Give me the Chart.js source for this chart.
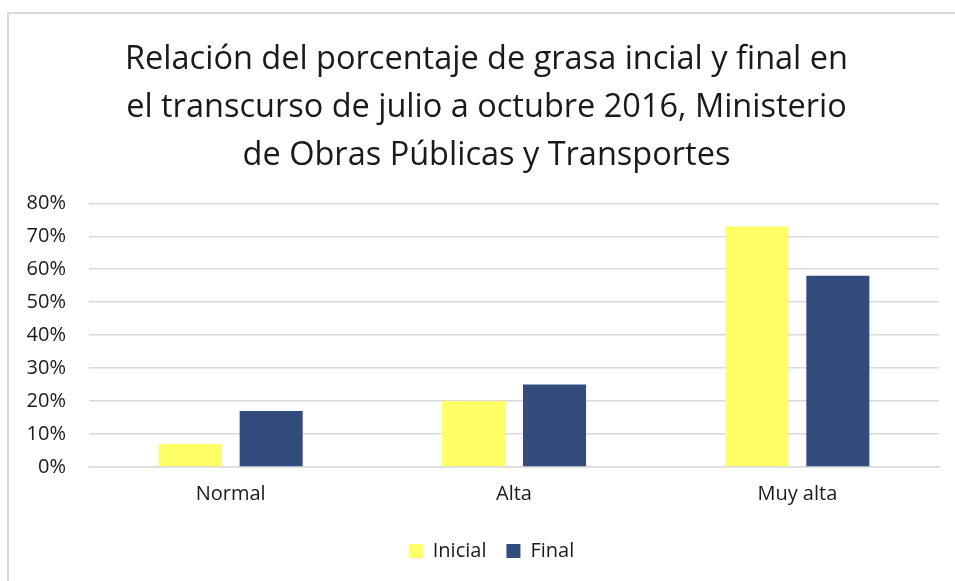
<!DOCTYPE html>
<html lang="es">
<head>
    <meta charset="UTF-8">
    <title>Porcentaje de grasa</title>
    <script src="https://cdn.jsdelivr.net/npm/chart.js"></script>
    <style>
        html, body { margin: 0; padding: 0; background: #fff; }
        #marco {
            position: absolute; left: 7px; top: 12px; width: 960px; height: 600px;
            border-left: 2px solid #d9d9d9; border-top: 2px solid #d9d9d9;
        }
        #caja { position: absolute; left: 0; top: 0; width: 955px; height: 581px; }
    </style>
</head>
<body>
    <div id="marco"></div>
    <div id="caja">
        <canvas id="grafico"></canvas>
    </div>

    <script>
        // datos
        const categorias = ['Normal', 'Alta', 'Muy alta'];
        const inicial = [7, 20, 73];
        const final = [17, 25, 58];
        const titulo = [
            'Relación del porcentaje de grasa incial y final en',
            'el transcurso de julio a octubre 2016, Ministerio',
            'de Obras Públicas y Transportes'
        ];

        const fuente = "'Open Sans', Lato, sans-serif";
        Chart.defaults.font.family = fuente;
        Chart.defaults.color = '#1a1a1a';

        // el marco original de Excel sigue mas alla del borde derecho,
        // asi que titulo y leyenda quedan algo corridos a la derecha
        const correrCajas = {
            id: 'correrCajas',
            afterLayout(chart) {
                if (chart.titleBlock) {
                    chart.titleBlock.left += 17;
                    chart.titleBlock.right += 17;
                }
                if (chart.legend) {
                    chart.legend.left += 22;
                    chart.legend.right += 22;
                }
            }
        };

        const config = {
            type: 'bar',
            data: {
                labels: categorias,
                datasets: [{
                    label: 'Inicial',
                    data: inicial,
                    backgroundColor: '#ffff66',
                    categoryPercentage: 0.572,
                    barPercentage: 0.778
                }, {
                    label: 'Final',
                    data: final,
                    backgroundColor: '#324c7e',
                    categoryPercentage: 0.572,
                    barPercentage: 0.778
                }]
            },
            options: {
                responsive: false,
                animation: false,
                layout: { padding: { top: 36, right: 16, left: 0, bottom: 10 } },
                scales: {
                    x: {
                        afterFit: function (scale) { scale.height += 8; },
                        grid: { display: false },
                        border: { color: '#d9d9d9', width: 1.5 },
                        ticks: { font: { size: 20 }, padding: 7, color: '#1a1a1a' }
                    },
                    y: {
                        min: 0,
                        max: 80,
                        afterFit: function (scale) { scale.width = 89; },
                        grid: { color: '#d9d9d9', lineWidth: 1.5, drawTicks: false },
                        border: { display: false },
                        ticks: {
                            stepSize: 10,
                            padding: 23,
                            font: { size: 20 },
                            color: '#1a1a1a',
                            callback: function (v) { return v + '%'; }
                        }
                    }
                },
                plugins: {
                    title: {
                        display: true,
                        text: titulo,
                        color: '#1a1a1a',
                        font: { size: 32.5, weight: 'normal', lineHeight: 1.47 },
                        padding: { top: 0, bottom: 24 }
                    },
                    legend: {
                        position: 'bottom',
                        labels: {
                            boxWidth: 14,
                            boxHeight: 14,
                            padding: 20,
                            font: { size: 20 },
                            color: '#1a1a1a'
                        }
                    },
                    tooltip: { enabled: false }
                }
            },
            plugins: [correrCajas]
        };

        const ctx = document.getElementById('grafico');
        ctx.width = 955;
        ctx.height = 581;
        new Chart(ctx, config);
    </script>
</body>
</html>
